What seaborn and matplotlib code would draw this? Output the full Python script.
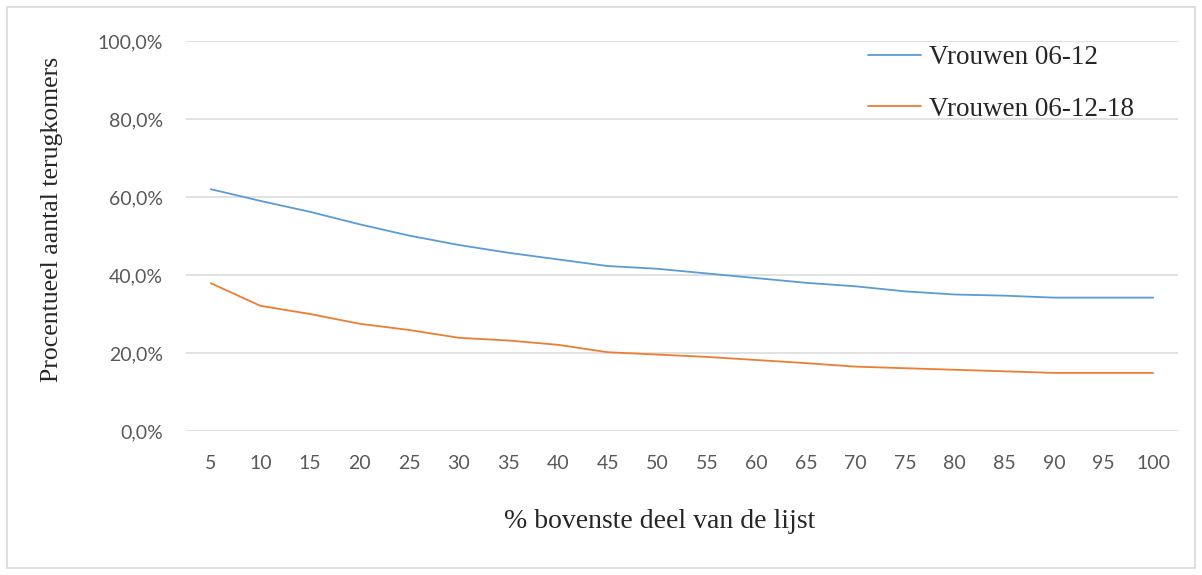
import pandas as pd
import seaborn as sns
import matplotlib.pyplot as plt
from matplotlib.patches import Rectangle
from matplotlib.ticker import FuncFormatter

# data
pct_lijst = [5, 10, 15, 20, 25, 30, 35, 40, 45, 50,
             55, 60, 65, 70, 75, 80, 85, 90, 95, 100]
vrouwen_06_12 = [62.0, 59.0, 56.2, 53.0, 50.1, 47.7, 45.7, 44.0, 42.3, 41.6,
                 40.4, 39.2, 38.0, 37.1, 35.8, 35.0, 34.7, 34.2, 34.2, 34.2]
vrouwen_06_12_18 = [37.9, 32.1, 30.0, 27.5, 25.9, 23.9, 23.2, 22.1, 20.2, 19.6,
                    19.0, 18.2, 17.4, 16.5, 16.1, 15.7, 15.3, 14.9, 14.9, 14.9]
series_names = ['Vrouwen 06-12', 'Vrouwen 06-12-18']
kleuren = ['#5B9BD5', '#ED7D31']

df = pd.DataFrame({
    'x': pct_lijst * 2,
    'y': vrouwen_06_12 + vrouwen_06_12_18,
    'serie': [series_names[0]] * len(pct_lijst) + [series_names[1]] * len(pct_lijst),
})

sns.set_style('white')
serif = ['Liberation Serif', 'DejaVu Serif']
tick_font = ['Lato', 'DejaVu Sans']

fig = plt.figure(figsize=(12.02, 5.75), dpi=100)
ax = fig.add_axes([186 / 1202, 1 - 431 / 575, (1178 - 186) / 1202, (431 - 41) / 575])

sns.lineplot(data=df, x='x', y='y', hue='serie', palette=kleuren,
             linewidth=1.3, ax=ax)

ax.set_xlim(2.5, 102.5)
ax.set_ylim(0, 100)
ax.set_xticks(pct_lijst)
ax.set_yticks(range(0, 101, 20))
ax.yaxis.set_major_formatter(FuncFormatter(lambda v, p: f'{v:.1f}%'.replace('.', ',')))
ax.grid(axis='y', color='#D9D9D9', linewidth=1.1)
ax.set_axisbelow(True)
for s in ax.spines.values():
    s.set_visible(False)
ax.tick_params(axis='both', length=0, labelsize=14, labelcolor='#595959')
ax.tick_params(axis='x', pad=17)
ax.tick_params(axis='y', pad=16.5)
for lab in ax.get_xticklabels() + ax.get_yticklabels():
    lab.set_family(tick_font)

ax.set_xlabel('% bovenste deel van de lijst', family=serif, fontsize=20)
ax.xaxis.label.set_va('center')
ax.xaxis.set_label_coords((660 - 186) / 992, (431 - 522) / 390)
ax.set_ylabel('Procentueel aantal terugkomers', family=serif, fontsize=18.5)
ax.yaxis.label.set_va('center')
ax.yaxis.set_label_coords((52 - 186) / 992, (431 - 219) / 390)

leg = ax.legend(loc='upper left', bbox_to_anchor=(868 / 1202, 1 - 45 / 575),
                bbox_transform=fig.transFigure, frameon=False, borderpad=0,
                borderaxespad=0, prop={'family': serif, 'size': 19.5},
                labelspacing=0.98, handlelength=1.97, handletextpad=0.27)
for h in leg.get_lines():
    h.set_linewidth(1.3)

fig.patches.append(Rectangle((7 / 1202, 7 / 575), 1 - 14 / 1202, 1 - 14 / 575,
                             transform=fig.transFigure, fill=False,
                             edgecolor='#D9D9D9', linewidth=1.2))

fig.savefig('out.png', dpi=100)
